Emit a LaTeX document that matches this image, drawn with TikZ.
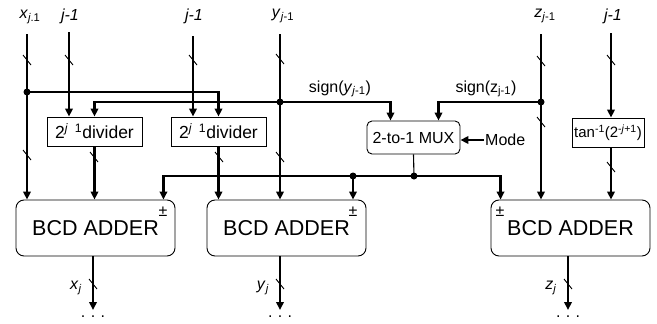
\documentclass[tikz,border=0pt]{standalone}
\usepackage{fontspec}
\setmainfont{Liberation Sans}
\usetikzlibrary{arrows.meta, positioning, calc}

\newcommand{\busmark}[1]{\draw[busslash] #1 ++(-4,-5) -- ++(8,10);}

\begin{document}
\begin{tikzpicture}[x=1pt, y=-1pt,
  bus/.style={line width=2.3pt},
  wire/.style={line width=1.1pt},
  arr/.style={-{Triangle[length=8pt,width=7.5pt]}},
  busslash/.style={line width=0.9pt},
  junct/.style={circle, fill, inner sep=0pt, minimum size=7pt},
  blk/.style={draw, line width=0.9pt, inner sep=0pt},
  divbox/.style={blk, minimum width=95, minimum height=29, font=\fontsize{17.5}{20}\selectfont},
  adder/.style={blk, rounded corners=8pt, minimum width=159, minimum height=56, font=\fontsize{21.5}{25}\selectfont},
  lbl/.style={font=\fontsize{16}{19}\selectfont, inner sep=1pt}
]
\useasboundingbox (0,0) rectangle (657,324);

% blocks
\node[divbox] (div1) at (94.5,131.5) {2\textsuperscript{\itshape j\hspace{0.6em}\upshape 1}divider};
\node[divbox] (div2) at (218.5,131.5) {2\textsuperscript{\itshape j\hspace{0.6em}\upshape 1}divider};
\node[blk, rounded corners=5pt, minimum width=93, minimum height=33, font=\fontsize{16}{19}\selectfont] (mux) at (413.5,137.5) {2-to-1 MUX};
\node[blk, minimum width=72, minimum height=29, font=\fontsize{15}{18}\selectfont] (tanb) at (608,132.5) {tan\textsuperscript{-1}(2\textsuperscript{-\textit{j}+1})};
\node[adder] (add1) at (95.5,228) {BCD ADDER};
\node[adder] (add2) at (286.5,228) {BCD ADDER};
\node[adder] (add3) at (570.5,228) {BCD ADDER};
\node[lbl] (pm1) at (163,212) {±};
\node[lbl] (pm2) at (353,212) {±};
\node[lbl] (pm3) at (500,212) {±};

% inputs
\node[lbl] (xlab) at (30,17) {\textit{x}\textsubscript{\textit{j}.1}};
\node[lbl] (jalab) at (70,16) {\textit{j-1}};
\node[lbl] (jblab) at (194,16) {\textit{j-1}};
\node[lbl] (ylab) at (283,16) {\textit{y}\textsubscript{\textit{j}-1}};
\node[lbl] (zlab) at (545,16) {\textit{z}\textsubscript{\textit{j}-1}};
\node[lbl] (jclab) at (613,16) {\textit{j-1}};
\coordinate (xtop) at (27,34);
\coordinate (jatop) at (69,32);
\coordinate (jbtop) at (193,36);
\coordinate (ytop) at (280,34);
\coordinate (ztop) at (541,34);
\coordinate (jctop) at (611,33);
\node[junct] (xdot) at (27,92) {};
\node[junct] (ydot) at (280,102) {};
\node[junct] (zdot) at (541,102) {};
\node[junct] (mdot) at (414,176) {};
\node[junct] (bdot) at (353,176) {};
\node[lbl] (sy) at (340,89) {sign(\textit{y}\textsubscript{\textit{j}-1})};
\node[lbl] (sz) at (486,89) {sign(z\textsubscript{j-1})};
\node[lbl, right] (mode) at (484,140) {Mode};

% x path
\draw[bus] (xtop) -- (xdot.center);
\draw[bus, arr] (xdot.center) -- (xdot |- add1.north);
\draw[bus, arr] (xdot.center) -| (div2.north);
\draw[bus, arr] (jatop) -- (jatop |- div1.north);
\draw[bus, arr] (jbtop) -- (jbtop |- div2.north);
\draw[bus, arr] (div1.south) -- (div1.south |- add1.north);
\draw[bus, arr] (div2.south) -- (div2.south |- add2.north);

% y path
\draw[wire] (ytop) -- (ydot.center);
\draw[bus, arr] (ydot.center) -- (ydot |- add2.north);
\draw[bus, arr] (ydot.center) -| (div1.north);
\draw[bus, arr] (ydot.center) -| ([xshift=-23pt]mux.north);

% z path
\draw[wire] (ztop) -- (zdot.center);
\draw[bus, arr] (zdot.center) -- (zdot |- add3.north);
\draw[bus, arr] (zdot.center) -| ([xshift=25pt]mux.north);
\draw[bus, arr] (jctop) -- (jctop |- tanb.north);
\draw[bus, arr] (jctop |- tanb.south) -- (jctop |- add3.north);

% mux and sign bus
\draw[bus, arr] (mode.west) -- (mode.west -| mux.east);
\draw[wire] (mux.south) -- (mdot.center);
\draw[bus, arr] (mdot.center) -| ([xshift=-12pt]add1.north east);
\draw[bus, arr] (mdot.center) -| ([xshift=10pt]add3.north west);
\draw[bus, arr] (bdot.center) -- (bdot |- add2.north);

% outputs
\coordinate (x1e) at (93,310);
\coordinate (y1e) at (280,310);
\coordinate (z1e) at (568,310);
\draw[bus, arr] (x1e |- add1.south) -- (x1e);
\draw[bus, arr] (y1e |- add2.south) -- (y1e);
\draw[bus, arr] (z1e |- add3.south) -- (z1e);
\node[lbl] (xo) at (76,288) {\textit{x}\textsubscript{\textit{j}}};
\node[lbl] (yo) at (263,288) {\textit{y}\textsubscript{\textit{j}}};
\node[lbl] (zo) at (551,288) {\textit{z}\textsubscript{\textit{j}}};
\node[lbl] (xd) at (93,317) {.\,\,.\,\,.};
\node[lbl] (yd) at (280,317) {.\,\,.\,\,.};
\node[lbl] (zd) at (568,317) {.\,\,.\,\,.};

% bus width marks
\busmark{(27,60)}
\busmark{(69,60)}
\busmark{(193,60)}
\busmark{(280,59)}
\busmark{(541,61)}
\busmark{(611,60)}
\busmark{(27,155)}
\busmark{(94,157)}
\busmark{(219,157)}
\busmark{(280,157)}
\busmark{(541,122)}
\busmark{(611,167)}
\busmark{(93,284)}
\busmark{(280,284)}
\busmark{(568,284)}
\end{tikzpicture}
\end{document}
